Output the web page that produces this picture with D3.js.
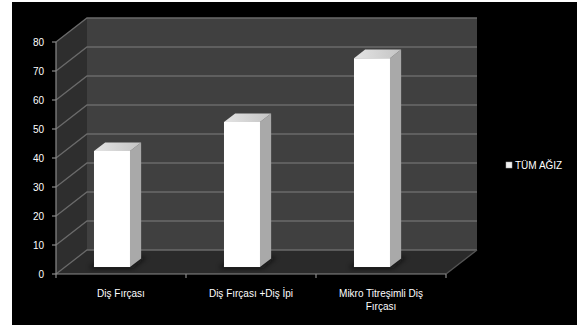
<!DOCTYPE html>
<html>
<head>
<meta charset="utf-8">
<script src="https://cdn.jsdelivr.net/npm/d3@7/dist/d3.min.js"></script>
<style>
  html, body { margin: 0; padding: 0; background: #fff; }
  svg { display: block; }
  text { font-family: "Liberation Sans", Arial, sans-serif; fill: #fff; }
</style>
</head>
<body>
<svg id="chart" width="577" height="325"></svg>
<script>
// Chart data
const categories = ["Diş Fırçası", "Diş Fırçası +Diş İpi", "Mikro Titreşimli Diş Fırçası"];
const categoryLines = [["Diş Fırçası"], ["Diş Fırçası +Diş İpi"], ["Mikro Titreşimli Diş", "Fırçası"]];
const seriesName = "TÜM AĞIZ";
const values = [40, 50, 72];
const yTicks = [0, 10, 20, 30, 40, 50, 60, 70, 80];

const svg = d3.select("#chart");

// Dark chart area
svg.append("rect").attr("x", 12).attr("y", 2).attr("width", 565).attr("height", 323).attr("fill", "#000");

// 3D projection: depth z in [0,1] shifts right and up
const DX = 31, DY = 24;
const x = d3.scaleBand().domain(categories).range([56, 446]);
const y = d3.scaleLinear().domain([0, 80]).range([274, 42]);
const P = (px, v, z) => [px + z * DX, y(v) - z * DY];
const poly = pts => pts.map(p => p.join(",")).join(" ");

const x0 = x.range()[0], x1 = x.range()[1];

// Back wall
svg.append("polygon")
  .attr("points", poly([P(x0, 0, 1), P(x1, 0, 1), P(x1, 80, 1), P(x0, 80, 1)]))
  .attr("fill", "#404040");
// Left wall
svg.append("polygon")
  .attr("points", poly([P(x0, 0, 0), P(x0, 0, 1), P(x0, 80, 1), P(x0, 80, 0)]))
  .attr("fill", "#2e2e2e");
// Floor
svg.append("polygon")
  .attr("points", poly([P(x0, 0, 0), P(x0, 0, 1), P(x1, 0, 1), P(x1, 0, 0)]))
  .attr("fill", "#2a2a2a");

// Gridlines on back wall and left wall
const grid = svg.append("g").attr("stroke", "#6a6a6a").attr("stroke-width", 1.3).attr("fill", "none");
yTicks.forEach(t => {
  grid.append("polyline").attr("points", poly([P(x0, t, 0), P(x0, t, 1), P(x1, t, 1)]));
});
// Floor right edge
grid.append("line")
  .attr("x1", P(x1, 0, 0)[0]).attr("y1", P(x1, 0, 0)[1])
  .attr("x2", P(x1, 0, 1)[0]).attr("y2", P(x1, 0, 1)[1])
  .attr("stroke", "#555");

// Bars
const barOff = 29, barW = 36, zFront = 0.29, zBack = 0.65;
const defs = svg.append("defs");
const shadow = defs.append("filter").attr("id", "blur").attr("x", "-30%").attr("y", "-30%").attr("width", "160%").attr("height", "160%");
shadow.append("feGaussianBlur").attr("stdDeviation", 2.5);
const topGrad = defs.append("linearGradient").attr("id", "topg").attr("x1", 0).attr("y1", 0).attr("x2", 1).attr("y2", 0);
topGrad.append("stop").attr("offset", "0%").attr("stop-color", "#e4e4e4");
topGrad.append("stop").attr("offset", "100%").attr("stop-color", "#c4c4c4");

const bars = svg.append("g");
categories.forEach((c, i) => {
  const v = values[i];
  const L = x(c) + barOff, R = L + barW;
  const g = bars.append("g");
  // base shadow
  g.append("polygon")
    .attr("points", poly([P(L - 4, 0, zFront - 0.05), P(R + 4, 0, zFront - 0.05), P(R + 4, 0, zBack + 0.05), P(L - 4, 0, zBack + 0.05)]))
    .attr("fill", "#111").attr("opacity", 0.7).attr("filter", "url(#blur)");
  // side face
  g.append("polygon")
    .attr("points", poly([P(R, 0, zFront), P(R, 0, zBack), P(R, v, zBack), P(R, v, zFront)]))
    .attr("fill", "#a9a9a9");
  // top face
  g.append("polygon")
    .attr("points", poly([P(L, v, zFront), P(R, v, zFront), P(R, v, zBack), P(L, v, zBack)]))
    .attr("fill", "url(#topg)");
  // front face
  g.append("polygon")
    .attr("points", poly([P(L, 0, zFront), P(R, 0, zFront), P(R, v, zFront), P(L, v, zFront)]))
    .attr("fill", "#ffffff");
});

// Axes
const axisColor = "#8a8a8a";
svg.append("line").attr("x1", x0).attr("x2", x0).attr("y1", y(0)).attr("y2", y(80))
  .attr("stroke", axisColor).attr("stroke-width", 1.2);
svg.append("line").attr("x1", x0).attr("x2", x1).attr("y1", y(0)).attr("y2", y(0))
  .attr("stroke", axisColor).attr("stroke-width", 1.2);

// Y ticks and labels
const yg = svg.append("g");
yTicks.forEach(t => {
  yg.append("line").attr("x1", x0 - 4).attr("x2", x0).attr("y1", y(t)).attr("y2", y(t))
    .attr("stroke", axisColor).attr("stroke-width", 1.2);
  yg.append("text").attr("x", 44).attr("y", y(t) + 3.5)
    .attr("text-anchor", "end").attr("font-size", 10).text(t);
});

// X ticks at category boundaries
const bounds = categories.map(c => x(c)).concat([x1]);
bounds.forEach(b => {
  svg.append("line").attr("x1", b).attr("x2", b).attr("y1", y(0)).attr("y2", y(0) + 4)
    .attr("stroke", axisColor).attr("stroke-width", 1.2);
});

// X labels
categories.forEach((c, i) => {
  const t = svg.append("text").attr("x", x(c) + x.bandwidth() / 2).attr("y", 297)
    .attr("text-anchor", "middle").attr("font-size", 10);
  categoryLines[i].forEach((ln, j) => {
    t.append("tspan").attr("x", x(c) + x.bandwidth() / 2).attr("dy", j === 0 ? 0 : 12.5).text(ln);
  });
});

// Legend
svg.append("rect").attr("x", 506).attr("y", 162).attr("width", 6).attr("height", 6)
  .attr("fill", "#f0f0f0").attr("stroke", "#aaa").attr("stroke-width", 0.5);
svg.append("text").attr("x", 515).attr("y", 169).attr("font-size", 10).text(seriesName);
</script>
</body>
</html>
